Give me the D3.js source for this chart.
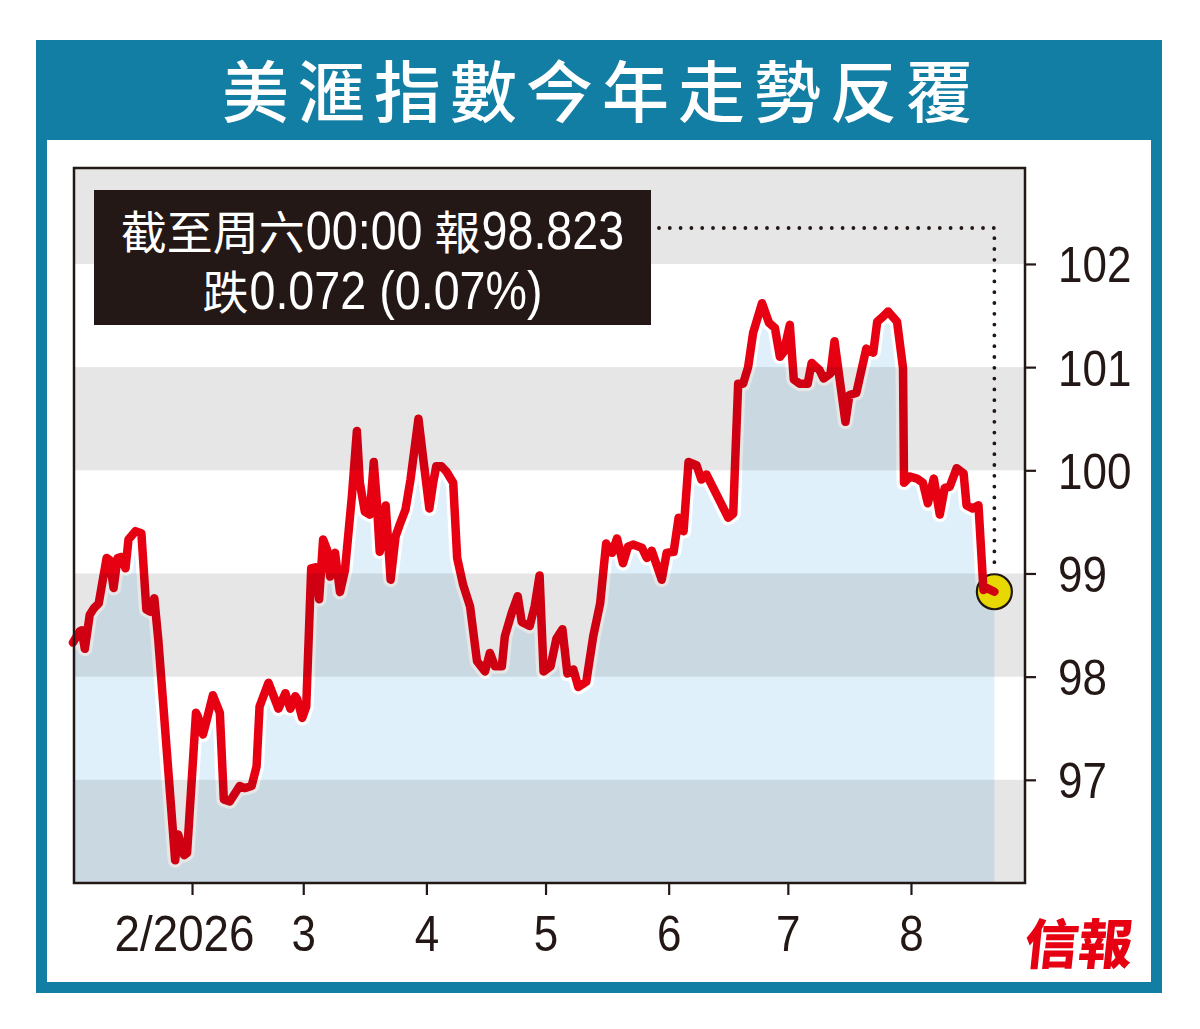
<!DOCTYPE html>
<html>
<head>
<meta charset="utf-8">
<script src="https://cdn.jsdelivr.net/npm/d3@7"></script>
<style>
  html, body { margin: 0; padding: 0; background: #ffffff; }
  svg { display: block; }
</style>
</head>
<body>
<div class="container"></div>
<script>
// dollar index readings
var dates = [
  "2026-01-02T00","2026-01-03T18","2026-01-04T06","2026-01-05T00","2026-01-06T06","2026-01-07T06","2026-01-08T12",
  "2026-01-10T12","2026-01-11T06","2026-01-12T06","2026-01-13T06","2026-01-14T06","2026-01-15T06","2026-01-16T00",
  "2026-01-17T18","2026-01-19T06","2026-01-20T12","2026-01-21T12","2026-01-22T12","2026-01-23T12","2026-01-27T18",
  "2026-01-28T12","2026-01-30T00","2026-01-30T18","2026-02-02T00","2026-02-02T12","2026-02-03T18","2026-02-04T12",
  "2026-02-06T06","2026-02-08T00","2026-02-09T00","2026-02-10T12","2026-02-13T00","2026-02-14T06","2026-02-16T00",
  "2026-02-17T06","2026-02-18T00","2026-02-20T06","2026-02-22T18","2026-02-24T12","2026-02-25T18","2026-02-27T00",
  "2026-02-27T12","2026-02-28T18","2026-03-01T18","2026-03-03T00","2026-03-04T06","2026-03-05T00","2026-03-06T00",
  "2026-03-07T00","2026-03-07T18","2026-03-09T00","2026-03-10T06","2026-03-11T12","2026-03-13T06","2026-03-14T12",
  "2026-03-15T06","2026-03-16T12","2026-03-17T18","2026-03-18T18","2026-03-19T12","2026-03-20T06","2026-03-21T00",
  "2026-03-21T18","2026-03-23T00","2026-03-24T06","2026-03-25T06","2026-03-26T18","2026-03-28T00","2026-03-30T00",
  "2026-03-31T06","2026-04-01T18","2026-04-02T18","2026-04-03T12","2026-04-04T18","2026-04-06T00","2026-04-07T18",
  "2026-04-08T18","2026-04-10T06","2026-04-12T00","2026-04-13T18","2026-04-15T18","2026-04-17T00","2026-04-18T06",
  "2026-04-20T00","2026-04-20T18","2026-04-22T12","2026-04-24T00","2026-04-25T00","2026-04-27T00","2026-04-28T06",
  "2026-04-29T12","2026-04-30T12","2026-05-02T06","2026-05-03T18","2026-05-05T06","2026-05-06T12","2026-05-08T00",
  "2026-05-09T06","2026-05-11T06","2026-05-13T00","2026-05-14T18","2026-05-16T06","2026-05-17T18","2026-05-19T00",
  "2026-05-20T12","2026-05-21T18","2026-05-23T00","2026-05-25T06","2026-05-26T12","2026-05-27T18","2026-05-30T06",
  "2026-05-31T12","2026-06-02T06","2026-06-03T12","2026-06-04T18","2026-06-06T00","2026-06-08T00","2026-06-09T06",
  "2026-06-10T12","2026-06-16T00","2026-06-17T06","2026-06-17T18","2026-06-18T12","2026-06-19T18","2026-06-21T00",
  "2026-06-22T06","2026-06-24T12","2026-06-26T06","2026-06-27T18","2026-06-29T00","2026-06-30T00","2026-07-01T12",
  "2026-07-02T12","2026-07-04T00","2026-07-06T00","2026-07-07T00","2026-07-09T00","2026-07-10T00","2026-07-11T18",
  "2026-07-12T18","2026-07-15T12","2026-07-16T12","2026-07-18T06","2026-07-20T18","2026-07-22T12","2026-07-23T12",
  "2026-07-25T00","2026-07-26T06","2026-07-28T12","2026-07-30T00","2026-07-30T06","2026-07-31T18","2026-08-02T12",
  "2026-08-04T00","2026-08-05T06","2026-08-06T18","2026-08-08T06","2026-08-09T12","2026-08-10T18","2026-08-12T12",
  "2026-08-14T06","2026-08-15T00","2026-08-16T12","2026-08-18T00","2026-08-19T06","2026-08-20T00","2026-08-22T00"
];
var values = [
  98.33, 98.44, 98.45, 98.27, 98.60, 98.66, 98.71,
  99.15, 99.13, 98.86, 99.15, 99.16, 99.05, 99.33,
  99.41, 99.39, 98.65, 98.63, 98.76, 98.36, 96.22,
  96.47, 96.27, 96.29, 97.65, 97.61, 97.44, 97.55,
  97.82, 97.65, 96.81, 96.79, 96.94, 96.92, 96.94,
  97.13, 97.71, 97.94, 97.69, 97.84, 97.69, 97.81,
  97.78, 97.60, 97.71, 99.05, 99.06, 98.75, 99.33,
  99.23, 98.97, 99.20, 98.82, 99.03, 99.75, 100.38,
  99.88, 99.60, 99.57, 100.08, 99.71, 99.21, 99.33,
  99.66, 98.94, 99.36, 99.47, 99.62, 99.91, 100.50,
  100.10, 99.63, 99.89, 100.04, 100.04, 99.99, 99.88,
  99.15, 98.89, 98.68, 98.15, 98.05, 98.23, 98.10,
  98.10, 98.39, 98.62, 98.78, 98.53, 98.49, 98.68,
  98.98, 98.05, 98.10, 98.37, 98.46, 98.03, 98.07,
  97.90, 97.95, 98.39, 98.71, 99.29, 99.20, 99.34,
  99.10, 99.26, 99.28, 99.25, 99.15, 99.22, 98.94,
  99.20, 99.21, 99.54, 99.41, 100.08, 100.05, 99.91,
  99.96, 99.54, 99.58, 100.10, 100.84, 100.84, 101.00,
  101.33, 101.62, 101.43, 101.38, 101.10, 101.15, 101.41,
  100.88, 100.84, 100.84, 101.04, 100.97, 100.89, 100.94,
  101.25, 100.47, 100.73, 100.75, 101.18, 101.14, 101.44,
  101.49, 101.54, 101.44, 100.99, 99.88, 99.94, 99.92,
  99.88, 99.68, 99.92, 99.57, 99.83, 99.84, 100.02,
  99.97, 99.66, 99.63, 99.66, 98.84, 98.86, 98.823
];

var yTicks = [97, 98, 99, 100, 101, 102];
var grayBands = [[96, 97], [98, 99], [100, 101], [102, 103]];
var xTickDates = ["2026-02-01T00","2026-03-01T00","2026-04-01T00","2026-05-01T00","2026-06-01T00","2026-07-01T00","2026-08-01T00"];
var xTickLabels = ["2/2026", "3", "4", "5", "6", "7", "8"];

var titleText = "美滙指數今年走勢反覆";
// [text, kind, gap before]
var noteLine1 = [["截至周六", "cjk", 0], ["00:00", "num", 1], ["報", "cjk", 12], ["98.823", "num", 1]];
var noteLine2 = [["跌", "cjk", 0], ["0.072", "num", 1], ["(0.07%)", "num", 13]];
var logoText = "信報";

var W = 1200, H = 1029;
var TEAL = "#137ea3", INK = "#231815", RED = "#e60012";
var NUM = "'Liberation Sans', Arial, sans-serif";
var CJK = "'Noto Sans CJK TC', 'Noto Sans CJK SC', sans-serif";

var plot = {left: 74, right: 1025, top: 168, bottom: 883};

var parse = d3.utcParse("%Y-%m-%dT%H");
var data = dates.map(function(d, i){ return {date: parse(d), value: values[i]}; });

var x = d3.scaleUtc()
  .domain([parse("2026-01-01T00"), parse("2026-09-01T00")])
  .range([68.9, 1034.1]);

var y = d3.scaleLinear()
  .domain([96, 102.93])
  .range([plot.bottom, plot.top]);

// condensed look: squeeze a normal sans horizontally
var squeeze = function(sel, k){
  sel.each(function(){
    var w = this.getComputedTextLength();
    d3.select(this)
      .attr('textLength', w * k)
      .attr('lengthAdjust', 'spacingAndGlyphs');
  });
};

var svg = d3.select('.container').append('svg')
  .attr('width', W)
  .attr('height', H);

// teal frame + title bar
svg.append('rect')
  .attr('x', 36).attr('y', 40)
  .attr('width', 1126).attr('height', 953)
  .attr('fill', TEAL);
svg.append('rect')
  .attr('x', 47).attr('y', 140)
  .attr('width', 1104).attr('height', 842)
  .attr('fill', '#ffffff');

svg.append('text')
  .attr('x', 222).attr('y', 117)
  .attr('font-family', CJK)
  .attr('font-weight', 500)
  .attr('font-size', 67)
  .attr('letter-spacing', 9)
  .attr('fill', '#ffffff')
  .text(titleText);

// area under the line
var area = d3.area()
  .x(function(d){ return x(d.date); })
  .y0(y(96))
  .y1(function(d){ return y(d.value); });

var line = d3.line()
  .x(function(d){ return x(d.date); })
  .y(function(d){ return y(d.value); });

svg.append('path')
  .datum(data)
  .attr('d', area)
  .attr('fill', '#dff0fa');

svg.append('path')
  .datum(data)
  .attr('d', line)
  .attr('fill', 'none')
  .attr('stroke', '#ffffff')
  .attr('stroke-width', 15)
  .attr('stroke-linejoin', 'round')
  .attr('stroke-linecap', 'round');

var last = data[data.length - 1];

svg.append('circle')
  .attr('cx', x(last.date))
  .attr('cy', y(last.value))
  .attr('r', 17.5)
  .attr('fill', '#fff000')
  .attr('stroke', INK)
  .attr('stroke-width', 2.2);

svg.append('path')
  .datum(data)
  .attr('d', line)
  .attr('fill', 'none')
  .attr('stroke', RED)
  .attr('stroke-width', 8.5)
  .attr('stroke-linejoin', 'round')
  .attr('stroke-linecap', 'round');

// gray bands darken whatever is under them
svg.append('g')
  .style('mix-blend-mode', 'multiply')
  .selectAll('rect')
  .data(grayBands)
  .enter()
  .append('rect')
  .attr('x', plot.left)
  .attr('width', plot.right - plot.left)
  .attr('y', function(d){ return y(Math.min(d[1], y.domain()[1])); })
  .attr('height', function(d){ return y(d[0]) - y(Math.min(d[1], y.domain()[1])); })
  .attr('fill', '#e6e6e6');

// dotted leader from the note to the last point
svg.append('path')
  .attr('d', 'M659,228H' + x(last.date) + 'V' + (y(last.value) - 20))
  .attr('fill', 'none')
  .attr('stroke', INK)
  .attr('stroke-width', 3.8)
  .attr('stroke-linecap', 'round')
  .attr('stroke-dasharray', '0 10.8');

// note box
svg.append('rect')
  .attr('x', 94).attr('y', 190)
  .attr('width', 557).attr('height', 135)
  .attr('fill', INK);

var addNote = function(parts, baseY){
  var items = parts.map(function(p){
    var t = svg.append('text')
      .attr('y', baseY)
      .attr('fill', '#ffffff')
      .text(p[0]);
    var w;
    if (p[1] == 'cjk') {
      t.attr('font-family', CJK).attr('font-size', 46);
      w = t.node().getComputedTextLength();
    } else {
      t.attr('font-family', NUM).attr('font-size', 53);
      squeeze(t, 0.88);
      w = +t.attr('textLength');
    }
    return {t: t, w: w, gap: p[2]};
  });
  var total = d3.sum(items, function(d){ return d.w + d.gap; });
  var cx = 372.5 - total / 2;
  items.forEach(function(d){
    cx += d.gap;
    d.t.attr('x', cx);
    cx += d.w;
  });
};
addNote(noteLine1, 249);
addNote(noteLine2, 309);

// plot frame
svg.append('rect')
  .attr('x', plot.left).attr('y', plot.top)
  .attr('width', plot.right - plot.left)
  .attr('height', plot.bottom - plot.top)
  .attr('fill', 'none')
  .attr('stroke', INK)
  .attr('stroke-width', 2.5);

// axes
var yAxis = d3.axisRight(y)
  .tickValues(yTicks)
  .tickSize(11)
  .tickPadding(22)
  .tickFormat(d3.format('d'));

var gy = svg.append('g')
  .attr('transform', 'translate(' + plot.right + ',0)')
  .call(yAxis);

var xAxis = d3.axisBottom(x)
  .tickValues(xTickDates.map(parse))
  .tickSize(12)
  .tickPadding(20)
  .tickFormat(function(d, i){ return xTickLabels[i]; });

var gx = svg.append('g')
  .attr('transform', 'translate(0,' + plot.bottom + ')')
  .call(xAxis);

[gx, gy].forEach(function(g){
  g.select('.domain').remove();
  g.selectAll('.tick line').attr('stroke', INK).attr('stroke-width', 2.2);
  g.selectAll('.tick text')
    .attr('fill', INK)
    .attr('font-family', NUM)
    .attr('font-size', 50);
  squeeze(g.selectAll('.tick text'), 0.88);
});
gy.selectAll('.tick text').attr('dy', '0.36em');
gx.selectAll('.tick text').filter(function(d, i){ return i == 0; })
  .attr('dx', -8)
  .attr('textLength', 140);

// masthead
svg.append('text')
  .attr('x', 1022).attr('y', 964)
  .attr('font-family', CJK)
  .attr('font-weight', 900)
  .attr('font-size', 54)
  .attr('fill', RED)
  .attr('transform', 'skewX(-6)')
  .attr('dx', 102)
  .text(logoText);
</script>
</body>
</html>
